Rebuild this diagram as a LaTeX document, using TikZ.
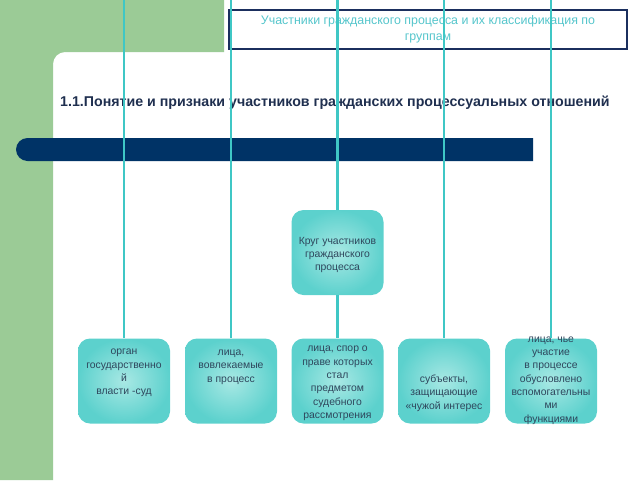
\documentclass[tikz,border=0pt]{standalone}
\usepackage{fontspec}
\setmainfont{Liberation Sans}
\usepackage{tikz}

\definecolor{leafgreen}{HTML}{9BCB96}
\definecolor{barnavy}{HTML}{003366}
\definecolor{framenavy}{HTML}{1B2F5E}
\definecolor{linkteal}{HTML}{3FC7C5}
\definecolor{boxin}{HTML}{A8E8E4}
\definecolor{boxout}{HTML}{5CD1CD}
\definecolor{boxtext}{HTML}{2E465C}
\definecolor{titleteal}{HTML}{55C6CC}
\definecolor{headnavy}{HTML}{1F2F4F}

\begin{document}
\begin{tikzpicture}[x=1pt,y=-1pt,
        part/.style={rounded corners=12pt,minimum width=92pt,minimum height=85pt,
            inner color=boxin,outer color=boxout,draw=none},
        txt/.style={align=center,text=boxtext,inner sep=0pt,
            font=\fontsize{10.4}{13.3}\selectfont},
        link/.style={draw=linkteal,line width=2.6pt}]

    \useasboundingbox (0,0) rectangle (640,480);

    % green frame with rounded inner corner
    \fill[leafgreen] (0,0) -- (224,0) -- (224,52) -- (65,52)
        .. controls (58.4,52) and (53,57.4) .. (53,64) -- (53,480) -- (0,480) -- cycle;

    % title
    \draw[framenavy,line width=2.6pt,fill=white] (229,10) rectangle (627,49);
    \node[align=center,text=titleteal,font=\fontsize{12.4}{16}\selectfont] (title) at (428,29.5)
        {Участники гражданского процесса и их классификация по\\группам};

    \node[anchor=west,text=headnavy,inner sep=0pt,font=\fontsize{14.2}{16}\selectfont\bfseries] (head) at (60,103)
        {1.1.Понятие и признаки участников гражданских процессуальных отношений};

    % bar
    \fill[barnavy] (533,138) -- (27.5,138) .. controls (21.15,138) and (16,143.15) .. (16,149.5)
        .. controls (16,155.85) and (21.15,161) .. (27.5,161) -- (533,161) -- cycle;

    % boxes
    \node[part] (c) at (337.5,252.5) {};
    \node[part] (b1) at (124,381) {};
    \node[part] (b2) at (231,381) {};
    \node[part] (b3) at (337.5,381) {};
    \node[part] (b4) at (444,381) {};
    \node[part] (b5) at (551,381) {};

    \node[txt] (tc) at (337.5,255) {Круг участников\\гражданского\\процесса};
    \node[txt] (t1) at (124,373) {орган\\государственно\\й\\власти -суд};
    \node[txt] (t2) at (231,367) {лица,\\вовлекаемые\\в процесс};
    \node[txt] (t3) at (337.5,383.5) {лица, спор о\\праве которых\\стал\\предметом\\судебного\\рассмотрения};
    \node[txt] (t4) at (444,393) {субъекты,\\защищающие\\«чужой интерес};
    \node[txt] (t5) at (551,380.5) {лица, чье\\участие\\в процессе\\обусловлено\\вспомогательны\\ми\\функциями};

    % connectors
    \foreach \i/\x in {1/124,2/231,3/337.5,4/444,5/551}
        \coordinate (top\i) at (\x,0);
    \draw[link] (top1) -- (b1.north);
    \draw[link] (top2) -- (b2.north);
    \draw[link] (top3) -- (c.north);
    \draw[link] (c.south) -- (b3.north);
    \draw[link] (top4) -- (b4.north);
    \draw[link] (top5) -- (b5.north);
\end{tikzpicture}
\end{document}
